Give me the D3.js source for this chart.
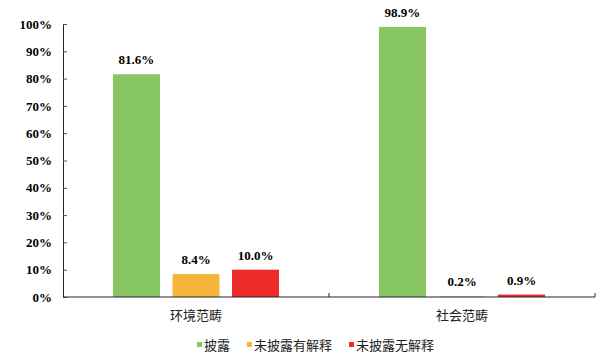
<!DOCTYPE html>
<html lang="zh">
<head>
<meta charset="UTF-8" />
<script src="https://d3js.org/d3.v7.min.js"></script>
<style>
    body { margin: 0; background: #fff; }
</style>
</head>
<body>
<svg width="615" height="364"></svg>
<script>

// data
var categories = ["环境范畴", "社会范畴"];
var seriesNames = ["披露", "未披露有解释", "未披露无解释"];
var seriesColors = ["#88C664", "#F5B43A", "#EE2B2B"];
var disclosed = [81.6, 98.9];
var notDisclosedExplained = [8.4, 0.2];
var notDisclosedUnexplained = [10.0, 0.9];
var yTicks = [0, 10, 20, 30, 40, 50, 60, 70, 80, 90, 100];

var seriesValues = [disclosed, notDisclosedExplained, notDisclosedUnexplained];

var numFont = "'Liberation Serif', 'Times New Roman', serif";
var cjkFont = "'Noto Sans CJK SC', sans-serif";

var svg = d3.select("svg"),
    margin = {top: 24, left: 63},
    width = 595 - margin.left,
    height = 297 - margin.top,
    g = svg.append("g").attr("transform", "translate(" + margin.left + "," + margin.top + ")");

var x0 = d3.scaleBand().domain(categories).range([0, width]);
var x1 = d3.scaleBand().domain(seriesNames)
    .range([0, x0.bandwidth()])
    .paddingInner(0.21)
    .paddingOuter(0.84);
var y = d3.scaleLinear().domain([0, 100]).range([height, 0]);
var color = d3.scaleOrdinal().domain(seriesNames).range(seriesColors);

// flatten into bar rows
var rows = [];
categories.forEach(function(c, i) {
    seriesNames.forEach(function(s, j) {
        rows.push({cat: c, series: s, value: seriesValues[j][i]});
    });
});

// y axis, ticks pointing inward
var yAxis = g.append("g")
    .call(d3.axisLeft(y).tickValues(yTicks).tickSize(-4).tickPadding(11)
        .tickFormat(function(d) { return d + "%"; }));
yAxis.select(".domain").attr("stroke", "#222");
yAxis.selectAll(".tick line").attr("stroke", "#555");
yAxis.selectAll(".tick text")
    .attr("fill", "#000")
    .style("font-family", numFont)
    .style("font-weight", "bold")
    .style("font-size", "13px");

// bars
g.append("g").selectAll("rect")
    .data(rows)
    .enter().append("rect")
        .attr("x", function(d) { return x0(d.cat) + x1(d.series); })
        .attr("y", function(d) { return y(d.value); })
        .attr("width", x1.bandwidth())
        .attr("height", function(d) { return height - y(d.value); })
        .attr("fill", function(d) { return color(d.series); });

// value labels
g.append("g").selectAll("text")
    .data(rows)
    .enter().append("text")
        .attr("x", function(d) { return x0(d.cat) + x1(d.series) + x1.bandwidth() / 2; })
        .attr("y", function(d) { return y(d.value) - 10; })
        .attr("text-anchor", "middle")
        .attr("fill", "#000")
        .style("font-family", numFont)
        .style("font-weight", "bold")
        .style("font-size", "13px")
        .text(function(d) { return d.value.toFixed(1) + "%"; });

// x axis with category boundary ticks pointing up
var xAxis = g.append("g").attr("transform", "translate(0," + height + ")");
xAxis.append("line")
    .attr("x1", 0).attr("x2", width)
    .attr("stroke", "#222");
xAxis.selectAll("line.sep")
    .data(categories)
    .enter().append("line")
        .attr("class", "sep")
        .attr("x1", function(d) { return x0(d) + x0.bandwidth(); })
        .attr("x2", function(d) { return x0(d) + x0.bandwidth(); })
        .attr("y1", 0).attr("y2", -4)
        .attr("stroke", "#222");
xAxis.selectAll("text")
    .data(categories)
    .enter().append("text")
        .attr("x", function(d) { return x0(d) + x0.bandwidth() / 2; })
        .attr("y", 23)
        .attr("text-anchor", "middle")
        .attr("fill", "#222")
        .style("font-family", cjkFont)
        .style("font-size", "13px")
        .text(function(d) { return d; });

// legend
var legendX = [197, 247, 349];
var legend = svg.append("g").attr("transform", "translate(0,345)");
var items = legend.selectAll("g")
    .data(seriesNames)
    .enter().append("g")
        .attr("transform", function(d, i) { return "translate(" + legendX[i] + ",0)"; });
items.append("rect")
    .attr("x", 0).attr("y", -3)
    .attr("width", 5).attr("height", 5)
    .attr("fill", function(d) { return color(d); });
items.append("text")
    .attr("x", 7).attr("y", 0)
    .attr("dy", "0.36em")
    .attr("fill", "#222")
    .style("font-family", cjkFont)
    .style("font-size", "13px")
    .text(function(d) { return d; });

</script>
</body>
</html>
